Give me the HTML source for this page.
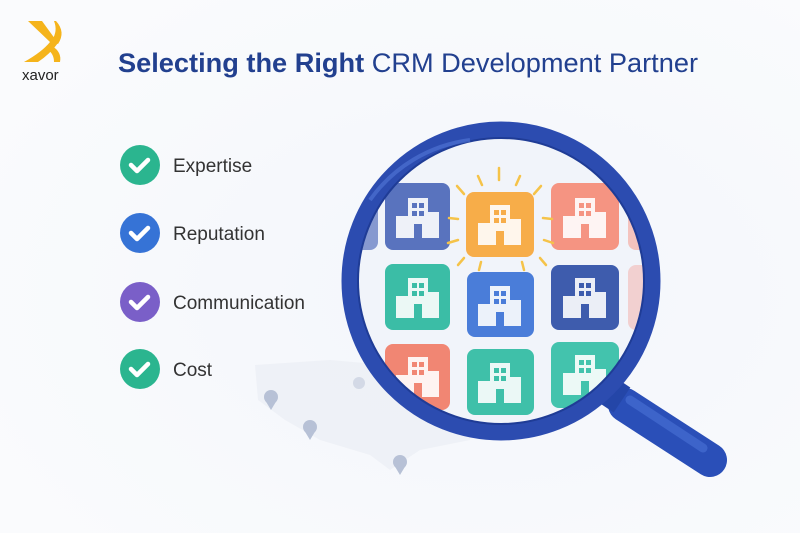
<!DOCTYPE html>
<html><head><meta charset="utf-8"><style>
html,body{margin:0;padding:0;background:#f9fafc;}
svg{display:block}
text{font-family:"Liberation Sans","DejaVu Sans",sans-serif}
</style></head><body>
<svg width="800" height="533" viewBox="0 0 800 533" xmlns="http://www.w3.org/2000/svg">
<defs>
<radialGradient id="bg" cx="0.6" cy="0.55" r="0.7"><stop offset="0" stop-color="#f3f6fb"/><stop offset="1" stop-color="#fafbfd"/></radialGradient>
<clipPath id="lens"><circle cx="501" cy="281" r="143"/></clipPath>
<g id="bld" fill="#fff" opacity="0.9">
<rect x="-10" y="-20" width="20" height="40"/>
<rect x="-22" y="-2" width="12" height="22"/>
<rect x="10" y="-6" width="11" height="26"/>
</g>
<g id="win" fill="currentColor">
<rect x="-6" y="-15" width="5" height="5"/><rect x="1" y="-15" width="5" height="5"/>
<rect x="-6" y="-7" width="5" height="5"/><rect x="1" y="-7" width="5" height="5"/>
<rect x="-4" y="6" width="8" height="14"/>
</g>
</defs>
<rect width="800" height="533" fill="url(#bg)"/>
<!-- map -->
<path d="M255 365 L330 360 L420 368 L470 372 L470 440 L420 450 L390 470 L370 455 L320 440 L285 420 L258 400 Z" fill="#eceff5" opacity="0.8"/>
<g fill="#b7c1d6">
<circle cx="271" cy="397" r="7"/><path d="M265 400 L271 410 L277 400Z"/>
<circle cx="310" cy="427" r="7"/><path d="M304 430 L310 440 L316 430Z"/>
<circle cx="400" cy="462" r="7"/><path d="M394 465 L400 475 L406 465Z"/>
<circle cx="359" cy="383" r="6" opacity="0.5"/>
</g>
<!-- logo -->
<path d="M28 21 L42 21 L58 43 Q50 54 38 62 L24 62 Q42 52 50 42 Z" fill="#f5b41b"/>
<path d="M56 21 Q66 32 58 44 L52 40 Q58 31 54 21Z" fill="#f5b41b"/>
<path d="M52 46 Q62 52 60 62 L54 62 Q54 54 48 50Z" fill="#f5b41b"/>
<text x="22" y="80" font-size="15" fill="#222">xavor</text>
<!-- title -->
<text x="118" y="72" font-size="26.5" fill="#22408f" textLength="580" lengthAdjust="spacingAndGlyphs"><tspan font-weight="bold">Selecting the Right</tspan> CRM Development Partner</text>
<!-- checklist -->
<g font-size="19" fill="#333">
<circle cx="140" cy="165" r="20" fill="#2bb58f"/><text x="173" y="172">Expertise</text>
<circle cx="140" cy="233" r="20" fill="#3673d6"/><text x="173" y="240">Reputation</text>
<circle cx="140" cy="302" r="20" fill="#7a5fc8"/><text x="173" y="309">Communication</text>
<circle cx="140" cy="369" r="20" fill="#2bb58f"/><text x="173" y="376">Cost</text>
</g>
<g fill="none" stroke="#fff" stroke-width="4.5" stroke-linecap="round" stroke-linejoin="round">
<path d="M131 165 l6 6 l11 -11"/><path d="M131 233 l6 6 l11 -11"/><path d="M131 302 l6 6 l11 -11"/><path d="M131 369 l6 6 l11 -11"/>
</g>
<!-- handle -->
<line x1="625" y1="405" x2="710" y2="460" stroke="#2a4fb8" stroke-width="34" stroke-linecap="round"/>
<line x1="630" y1="400" x2="703" y2="448" stroke="#4a72d6" stroke-width="9" stroke-linecap="round" opacity="0.6"/>
<line x1="604" y1="388" x2="622" y2="400" stroke="#2446a8" stroke-width="30"/>
<!-- lens -->
<circle cx="501" cy="281" r="150" fill="#f0f3fa"/>
<g clip-path="url(#lens)">
<rect x="340" y="185" width="38" height="65" rx="8" fill="#4a66b8" opacity="0.7"/>
<rect x="628" y="185" width="40" height="65" rx="8" fill="#f58a78" opacity="0.5"/>
<rect x="628" y="265" width="40" height="65" rx="8" fill="#f2a6a0" opacity="0.5"/>
<rect x="385" y="183" width="65" height="67" rx="8" fill="#4b68b9"/>
<rect x="466" y="192" width="68" height="65" rx="8" fill="#f7a63a"/>
<rect x="551" y="183" width="68" height="67" rx="8" fill="#f58b78"/>
<rect x="385" y="264" width="65" height="66" rx="8" fill="#2bb89f"/>
<rect x="467" y="272" width="67" height="65" rx="8" fill="#3b72d6"/>
<rect x="551" y="265" width="68" height="65" rx="8" fill="#2e4fa6"/>
<rect x="385" y="344" width="65" height="66" rx="8" fill="#f07c68"/>
<rect x="467" y="349" width="67" height="66" rx="8" fill="#2fbba2"/>
<rect x="551" y="342" width="68" height="66" rx="8" fill="#34bea6"/>
<g>
<use href="#bld" x="418" y="218"/><use href="#win" x="418" y="218" color="#4b68b9"/>
<use href="#bld" x="500" y="225"/><use href="#win" x="500" y="225" color="#f7a63a"/>
<use href="#bld" x="585" y="218"/><use href="#win" x="585" y="218" color="#f58b78"/>
<use href="#bld" x="418" y="298"/><use href="#win" x="418" y="298" color="#2bb89f"/>
<use href="#bld" x="500" y="306"/><use href="#win" x="500" y="306" color="#3b72d6"/>
<use href="#bld" x="585" y="298"/><use href="#win" x="585" y="298" color="#2e4fa6"/>
<use href="#bld" x="418" y="377"/><use href="#win" x="418" y="377" color="#f07c68"/>
<use href="#bld" x="500" y="383"/><use href="#win" x="500" y="383" color="#2fbba2"/>
<use href="#bld" x="585" y="375"/><use href="#win" x="585" y="375" color="#34bea6"/>
</g>
</g>
<!-- rays -->
<g stroke="#f5be3a" stroke-width="2.5" stroke-linecap="round">
<line x1="499" y1="168" x2="499" y2="180"/><line x1="478" y1="176" x2="482" y2="185"/><line x1="520" y1="176" x2="516" y2="185"/>
<line x1="457" y1="186" x2="464" y2="194"/><line x1="541" y1="186" x2="534" y2="194"/>
<line x1="449" y1="218" x2="458" y2="219"/><line x1="543" y1="218" x2="552" y2="219"/>
<line x1="448" y1="243" x2="458" y2="240"/><line x1="544" y1="240" x2="553" y2="243"/>
<line x1="458" y1="265" x2="464" y2="258"/><line x1="540" y1="258" x2="546" y2="265"/>
<line x1="481" y1="262" x2="479" y2="270"/><line x1="522" y1="262" x2="524" y2="270"/>
</g>
<circle cx="501" cy="281" r="143" fill="#fff" opacity="0.08"/>
<circle cx="501" cy="281" r="151" fill="none" stroke="#2c4cb0" stroke-width="17"/>
<circle cx="501" cy="281" r="143" fill="none" stroke="#1f3c96" stroke-width="2"/>
<path d="M370 200 A145 145 0 0 1 470 140" fill="none" stroke="#5a80e0" stroke-width="4" opacity="0.5"/>
</svg>
</body></html>
